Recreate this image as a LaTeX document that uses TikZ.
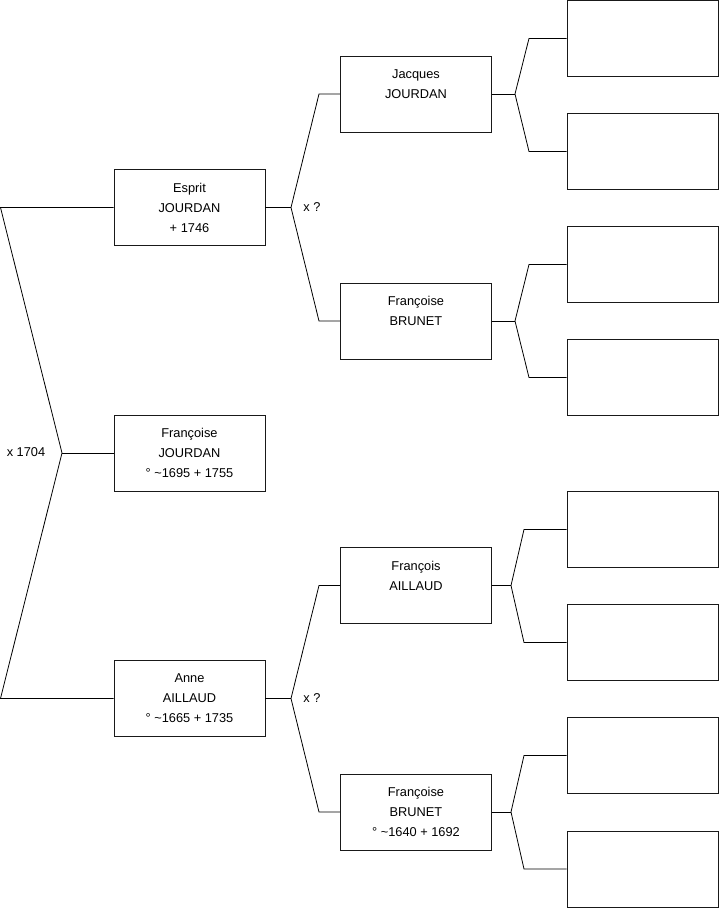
\documentclass[tikz,border=0pt]{standalone}
\usepackage{fontspec}
\setmainfont{Liberation Sans}
\usetikzlibrary{positioning}

\begin{document}
\begin{tikzpicture}[
  x=1pt, y=-1pt,
  person/.style={draw=black!90,line width=0.8pt,minimum width=151pt,minimum height=76pt,
    inner sep=0pt,align=center,font=\fontsize{12.8pt}{20pt}\selectfont},
  blank/.style={draw=black!90,line width=0.8pt,minimum width=151pt,minimum height=76pt,inner sep=0pt},
  link/.style={draw=black,line width=0.8pt},
  marr/.style={inner sep=1pt,font=\fontsize{12.8pt}{15pt}\selectfont}
]
  \useasboundingbox (0,0) rectangle (719,908);

  \node[person] (esprit) at (189.5,207.5) {Esprit\\JOURDAN\\+ 1746};
  \node[person] (francoise) at (189.5,453) {Françoise\\JOURDAN\\° \textasciitilde1695 + 1755};
  \node[person] (anne) at (189.5,698.5) {Anne\\AILLAUD\\° \textasciitilde1665 + 1735};

  \node[person] (jacques) at (416,94) {Jacques\\JOURDAN\\\mbox{}};
  \node[person] (brunet1) at (416,321) {Françoise\\BRUNET\\\mbox{}};
  \node[person] (aillaud) at (416,585.5) {François\\AILLAUD\\\mbox{}};
  \node[person] (brunet2) at (416,812) {Françoise\\BRUNET\\° \textasciitilde1640 + 1692};

  \node[blank] (e1) at (642.5,38.4) {};
  \node[blank] (e2) at (642.5,151.5) {};
  \node[blank] (e3) at (642.5,264.5) {};
  \node[blank] (e4) at (642.5,377.5) {};
  \node[blank] (e5) at (642.5,529.5) {};
  \node[blank] (e6) at (642.5,642.5) {};
  \node[blank] (e7) at (642.5,755.5) {};
  \node[blank] (e8) at (642.5,869) {};

  \coordinate (root) at (62,453);
  \coordinate (l1) at (0.5,207.5);
  \coordinate (l2) at (0.5,698.5);
  \draw[link] (esprit.west) -- (l1) -- (root) -- (l2) -- (anne.west);
  \draw[link] (root) -- (francoise.west);
  \node[marr] (m1) at (26,452) {x 1704};

  \coordinate (f1) at (291,207.5);
  \coordinate (f1u) at (319,94);
  \coordinate (f1d) at (319,321);
  \draw[link] (jacques.west) -- (f1u) -- (f1) -- (f1d) -- (brunet1.west);
  \draw[link] (esprit.east) -- (f1);
  \node[marr] (m2) at (312,207) {x ?};

  \coordinate (f2) at (291,698.5);
  \coordinate (f2u) at (319,585.5);
  \coordinate (f2d) at (319,812);
  \draw[link] (aillaud.west) -- (f2u) -- (f2) -- (f2d) -- (brunet2.west);
  \draw[link] (anne.east) -- (f2);
  \node[marr] (m3) at (312,698) {x ?};

  \coordinate (g1) at (515,94);
  \coordinate (g1u) at (529,38.4);
  \coordinate (g1d) at (529,151.5);
  \draw[link] (e1.west) -- (g1u) -- (g1) -- (g1d) -- (e2.west);
  \draw[link] (jacques.east) -- (g1);

  \coordinate (g2) at (515,321);
  \coordinate (g2u) at (529,264.5);
  \coordinate (g2d) at (529,377.5);
  \draw[link] (e3.west) -- (g2u) -- (g2) -- (g2d) -- (e4.west);
  \draw[link] (brunet1.east) -- (g2);

  \coordinate (g3) at (511,585.5);
  \coordinate (g3u) at (524,529.5);
  \coordinate (g3d) at (524,642.5);
  \draw[link] (e5.west) -- (g3u) -- (g3) -- (g3d) -- (e6.west);
  \draw[link] (aillaud.east) -- (g3);

  \coordinate (g4) at (511,812);
  \coordinate (g4u) at (524,755.5);
  \coordinate (g4d) at (524,869);
  \draw[link] (e7.west) -- (g4u) -- (g4) -- (g4d) -- (e8.west);
  \draw[link] (brunet2.east) -- (g4);
\end{tikzpicture}
\end{document}
